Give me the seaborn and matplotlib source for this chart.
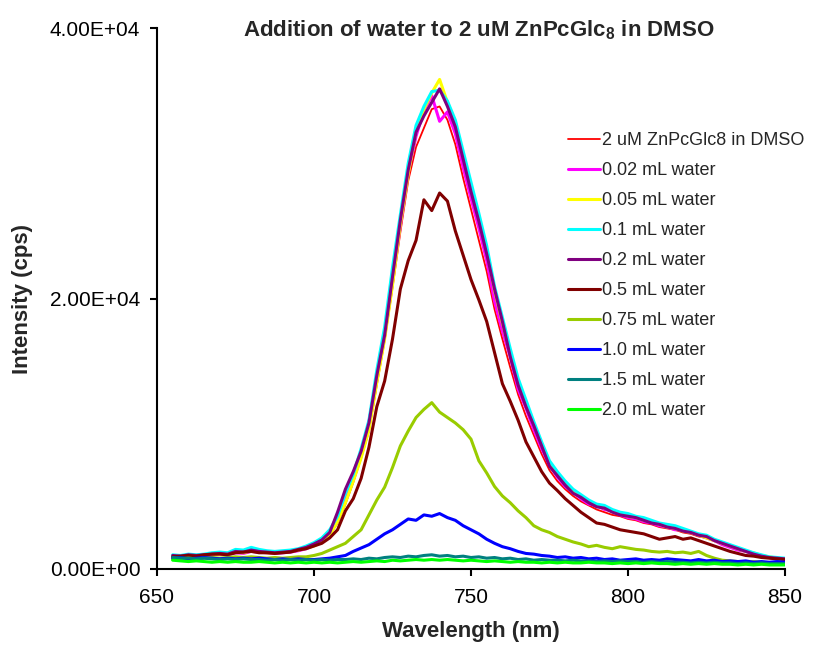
import numpy as np
import pandas as pd
import matplotlib
matplotlib.use("Agg")
import matplotlib.pyplot as plt
from matplotlib.ticker import FuncFormatter
import seaborn as sns

# wavelength grid (nm), 655 -> 850 in 2.5 nm steps
wavelength = np.arange(655, 850.1, 2.5)

dmso = [900, 950, 1000, 1000, 1050, 1050, 1100, 1100, 1200, 1250,
        1300, 1250, 1200, 1150, 1200, 1250, 1350, 1500, 1700, 2000,
        2500, 3400, 4800, 6400, 8200, 10200, 13600, 16900, 20800, 24900,
        28700, 31200, 32600, 34000, 34200, 33200, 31400, 28900, 26600, 24300,
        22000, 19200, 17000, 14900, 12900, 11300, 9900, 8500, 7300, 6500,
        5900, 5400, 5000, 4700, 4400, 4200, 4000, 3900, 3700, 3600,
        3400, 3300, 3100, 3000, 2900, 2700, 2600, 2400, 2300, 2100,
        1900, 1700, 1500, 1300, 1100, 950, 850, 750, 700]

w002 = [850, 900, 950, 1000, 950, 1050, 1100, 1050, 1200, 1150,
        1300, 1250, 1200, 1150, 1200, 1250, 1350, 1500, 1750, 2100,
        2600, 3900, 5200, 6900, 8400, 10900, 14100, 17200, 21300, 25400,
        29300, 32000, 33900, 35000, 33100, 33800, 32200, 29700, 27400, 25200,
        22800, 19800, 17600, 15700, 13300, 11900, 10300, 8900, 7700, 6800,
        6100, 5700, 5200, 4800, 4700, 4400, 4300, 4000, 3800, 3700,
        3500, 3400, 3200, 3100, 2900, 2900, 2700, 2500, 2300, 2100,
        1800, 1600, 1400, 1300, 1100, 1000, 850, 750, 700]

w005 = [800, 850, 900, 950, 1000, 1050, 1100, 1150, 1250, 1200,
        1350, 1300, 1200, 1200, 1250, 1300, 1400, 1550, 1700, 2000,
        2500, 3500, 4900, 6500, 8200, 10300, 13800, 17000, 21000, 25500,
        29200, 32400, 34000, 35200, 36200, 34500, 33000, 30500, 28300, 25900,
        23600, 20600, 18200, 15900, 13800, 12200, 10700, 9200, 7900, 7100,
        6400, 5800, 5400, 5000, 4700, 4500, 4300, 4100, 3900, 3800,
        3600, 3500, 3300, 3100, 3000, 2800, 2700, 2500, 2300, 2100,
        1900, 1700, 1500, 1300, 1200, 1000, 900, 800, 700]

w01 = [1050, 1000, 1100, 1050, 1100, 1200, 1250, 1200, 1450, 1400,
       1600, 1450, 1350, 1300, 1350, 1400, 1500, 1700, 1950, 2300,
       2900, 3900, 5600, 7000, 8900, 11000, 14700, 17900, 22300, 26200,
       30000, 32800, 34200, 35300, 35400, 34600, 33200, 30900, 28600, 26300,
       23900, 20900, 18600, 16300, 14100, 12500, 10900, 9400, 8000, 7200,
       6500, 5900, 5500, 5100, 4800, 4700, 4400, 4200, 4100, 3900,
       3800, 3600, 3400, 3300, 3200, 3000, 2800, 2600, 2500, 2200,
       2000, 1800, 1600, 1400, 1200, 1050, 900, 850, 800]

w02 = [1000, 950, 1050, 1000, 1050, 1100, 1150, 1100, 1300, 1250,
       1400, 1300, 1250, 1200, 1250, 1300, 1450, 1600, 1850, 2150,
       2700, 4200, 5900, 7200, 8700, 10800, 14300, 17300, 21600, 25800,
       29500, 32300, 33500, 34500, 35500, 34200, 32700, 30300, 27900, 25700,
       23300, 20700, 18300, 15700, 13600, 12000, 10600, 9100, 7600, 6900,
       6200, 5600, 5300, 4900, 4600, 4500, 4200, 4000, 3900, 3800,
       3600, 3400, 3300, 3100, 3000, 2800, 2700, 2500, 2400, 2100,
       1900, 1700, 1500, 1300, 1100, 950, 850, 800, 750]

w05 = [900, 950, 1000, 950, 1050, 1100, 1100, 1050, 1200, 1250,
       1300, 1200, 1200, 1150, 1200, 1250, 1400, 1500, 1700, 1900,
       2300, 2900, 4300, 5200, 6700, 9000, 12000, 13900, 17000, 20700,
       22800, 24300, 27300, 26500, 27800, 27200, 25000, 23200, 21400, 19900,
       18300, 16000, 13700, 12400, 11000, 9400, 8300, 7200, 6350, 5800,
       5200, 4700, 4200, 3800, 3400, 3300, 3100, 2900, 2800, 2700,
       2600, 2400, 2200, 2300, 2400, 2200, 2300, 2100, 1900, 1700,
       1500, 1300, 1150, 1000, 950, 850, 800, 750, 700]

w075 = [700, 750, 800, 750, 800, 850, 800, 850, 900, 850,
        900, 850, 800, 850, 800, 850, 900, 900, 1000, 1150,
        1400, 1650, 1900, 2400, 2900, 4000, 5100, 6050, 7500, 9100,
        10200, 11200, 11800, 12300, 11600, 11200, 10800, 10300, 9600, 8000,
        7100, 6100, 5400, 4900, 4300, 3800, 3200, 2900, 2700, 2400,
        2200, 2000, 1850, 1650, 1750, 1600, 1500, 1650, 1550, 1450,
        1400, 1300, 1250, 1300, 1200, 1250, 1150, 1300, 1000, 800,
        650, 600, 550, 500, 550, 500, 450, 500, 450]

w10 = [800, 850, 750, 800, 850, 800, 750, 800, 750, 800,
       750, 800, 750, 700, 750, 700, 750, 700, 700, 750,
       800, 900, 1000, 1300, 1550, 1800, 2200, 2600, 2900, 3300,
       3700, 3600, 4000, 3900, 4100, 3800, 3600, 3200, 2900, 2600,
       2200, 1900, 1650, 1500, 1300, 1150, 1100, 1000, 950, 850,
       900, 800, 850, 750, 800, 700, 750, 650, 700, 750,
       650, 700, 650, 750, 700, 650, 600, 700, 600, 650,
       550, 600, 550, 600, 500, 550, 500, 550, 500]

w15 = [850, 800, 800, 750, 800, 750, 700, 750, 700, 750,
       700, 700, 650, 700, 650, 700, 650, 700, 650, 700,
       650, 700, 700, 750, 700, 800, 750, 850, 900, 850,
       950, 900, 1000, 1050, 950, 1000, 900, 950, 850, 900,
       800, 850, 750, 800, 700, 750, 650, 700, 650, 650,
       600, 650, 600, 600, 550, 600, 550, 600, 550, 550,
       500, 550, 500, 550, 500, 500, 450, 500, 450, 500,
       450, 450, 400, 450, 400, 450, 400, 400, 400]

w20 = [650, 600, 550, 600, 550, 500, 550, 500, 550, 500,
       500, 550, 500, 450, 500, 450, 500, 450, 500, 450,
       500, 450, 500, 550, 500, 550, 600, 550, 650, 600,
       650, 700, 650, 700, 650, 700, 650, 600, 650, 600,
       550, 600, 550, 500, 550, 500, 500, 450, 500, 450,
       500, 450, 450, 500, 450, 450, 400, 450, 400, 450,
       400, 450, 400, 400, 350, 400, 350, 400, 350, 400,
       350, 350, 300, 350, 300, 350, 300, 300, 300]

labels = ["2 uM ZnPcGlc8 in DMSO", "0.02 mL water", "0.05 mL water",
          "0.1 mL water", "0.2 mL water", "0.5 mL water", "0.75 mL water",
          "1.0 mL water", "1.5 mL water", "2.0 mL water"]
series = [dmso, w002, w005, w01, w02, w05, w075, w10, w15, w20]
colors = ["#FF0000", "#FF00FF", "#FFFF00", "#00FFFF", "#800080",
          "#800000", "#99CC00", "#0000FF", "#008080", "#00FF00"]

sns.set_style("ticks")
plt.rcParams["font.family"] = ["Liberation Sans", "DejaVu Sans"]
plt.rcParams["mathtext.default"] = "regular"

fig = plt.figure(figsize=(8.23, 6.46), dpi=100)
ax = fig.add_axes([157 / 823, 1 - 569 / 646, 628 / 823, 541 / 646])

for lab, vals, col in zip(labels, series, colors):
    lw = 1.3 if lab.startswith("2 uM") else 2.2
    sns.lineplot(x=wavelength, y=vals, color=col, label=lab, lw=lw, ax=ax)

ax.set_xlim(650, 850)
ax.set_ylim(0, 40000)
ax.set_xticks([650, 700, 750, 800, 850])
ax.set_yticks([0, 20000, 40000])
ax.yaxis.set_major_formatter(FuncFormatter(lambda v, p: f"{v:.2E}"))
ax.tick_params(axis="both", labelsize=15, direction="out", length=5,
               width=1.5, color="black", labelcolor="black")
ax.tick_params(axis="y", pad=7)
ax.tick_params(axis="x", pad=9)
for s in ["left", "bottom"]:
    ax.spines[s].set_linewidth(1.5)
    ax.spines[s].set_color("black")
sns.despine(ax=ax)

ax.set_xlabel("Wavelength (nm)", fontsize=16, fontweight="bold", labelpad=10)
ax.set_ylabel("Intensity (cps)", fontsize=16, fontweight="bold", labelpad=12)
ax.text(0.513, 0.985, "Addition of water to 2 uM ZnPcGlc$_8$ in DMSO",
        transform=ax.transAxes, ha="center", va="baseline", fontsize=16,
        fontweight="bold")

leg = ax.legend(loc="upper left", bbox_to_anchor=(568 / 823, 1 - 132 / 646),
                bbox_transform=fig.transFigure, frameon=False, fontsize=13,
                handlelength=1.75, handletextpad=0.12, labelspacing=0.72,
                borderpad=0, borderaxespad=0)

fig.savefig("out.png", dpi=100)
